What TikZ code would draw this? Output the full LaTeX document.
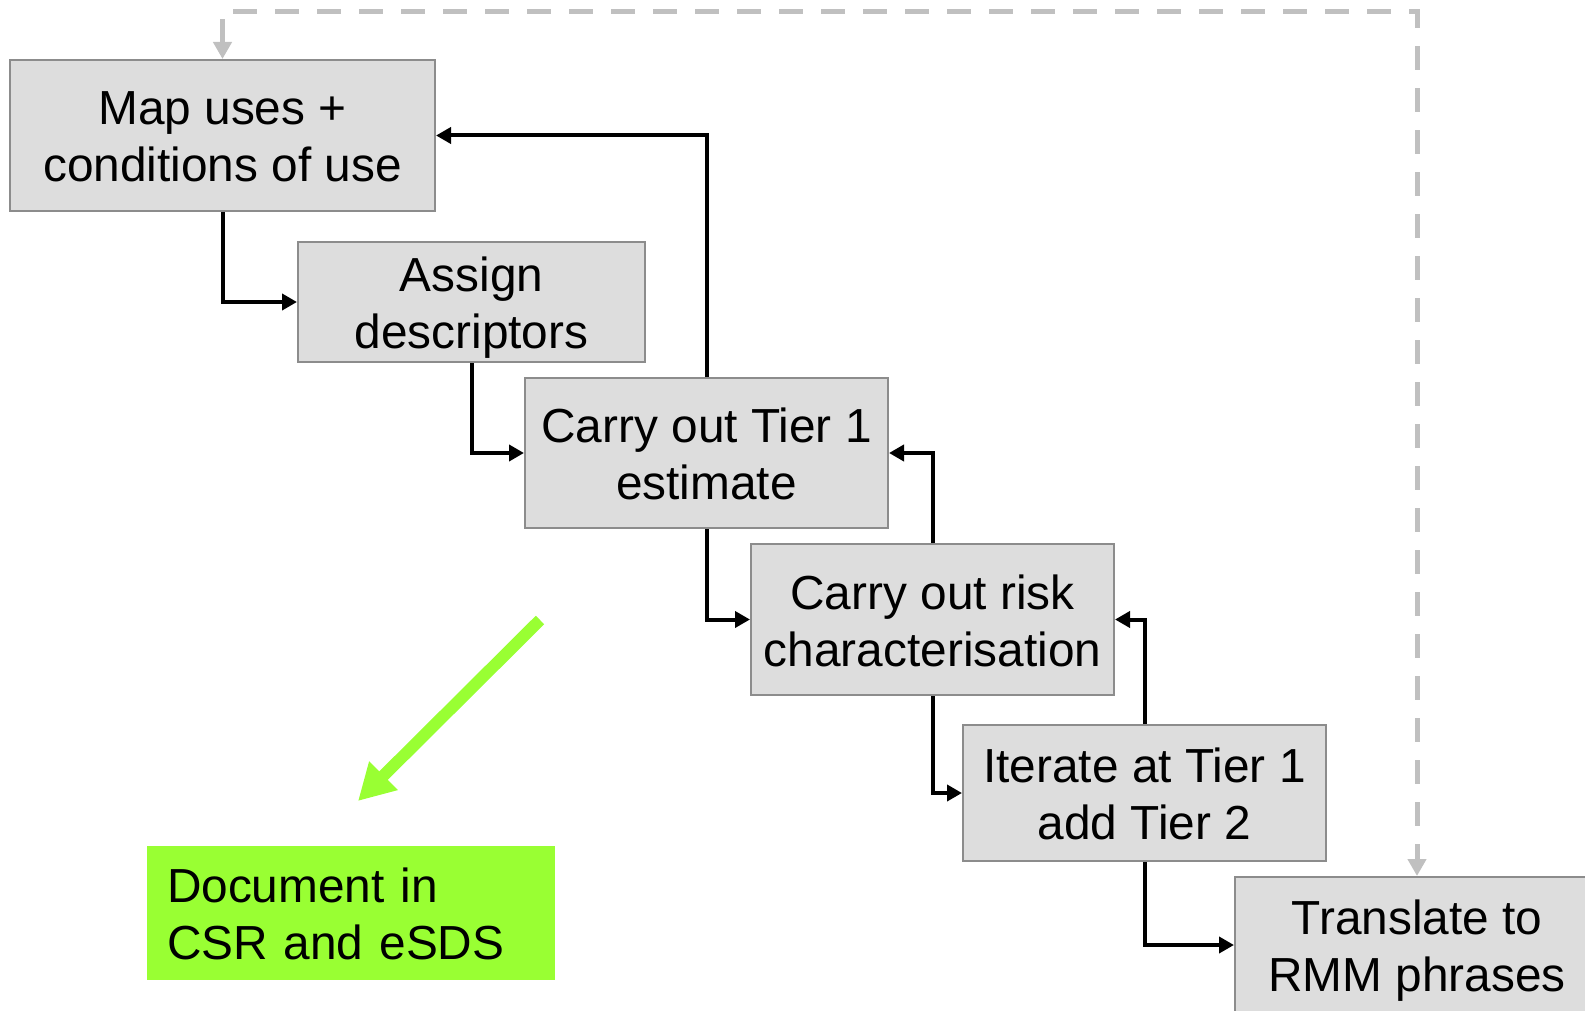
\documentclass[tikz,border=0pt]{standalone}
\usepackage{fontspec}
\setmainfont{Liberation Sans}
\usetikzlibrary{arrows.meta}
\definecolor{boxfill}{RGB}{221,221,221}
\definecolor{boxline}{RGB}{140,140,140}
\definecolor{loopgray}{RGB}{192,192,192}
\definecolor{docgreen}{RGB}{153,255,51}
% two-line label with fixed top height and bottom depth, so all labels sit alike
\newcommand{\twolines}[2]{\rule{0pt}{48pt}#1\\#2\rule[-12pt]{0pt}{12pt}}

\begin{document}
\begin{tikzpicture}[x=1pt,y=-1pt,
  labelfont/.style={font=\fontsize{47.8pt}{57pt}\selectfont},
  stepbox/.style={labelfont, draw=boxline, line width=2pt, fill=boxfill,
    inner sep=0pt, align=center},
  docbox/.style={labelfont, fill=docgreen, inner xsep=20pt, inner ysep=0pt,
    text width=368pt, align=left, minimum height=134pt},
  flow/.style={line width=4pt, miter limit=10, -{Triangle[length=15pt,width=16pt]}},
  loopback/.style={loopgray, line width=5pt, dash pattern=on 24pt off 18pt,
    {Triangle[length=17pt,width=18pt]}-{Triangle[length=17pt,width=18pt]}},
  hint/.style={docgreen, line width=12pt, -{Triangle[length=36pt,width=38pt]}}]

\clip (0,0) rectangle (1585,1011);

% process steps
\node[stepbox, minimum width=425pt, minimum height=151pt] (map) at (222.5,135.5)
  {\twolines{Map uses +}{conditions of use}};
\node[stepbox, minimum width=347pt, minimum height=120pt] (assign) at (471.5,302)
  {\twolines{Assign}{descriptors}};
\node[stepbox, minimum width=363pt, minimum height=150pt] (tier) at (706.5,453)
  {\twolines{Carry out Tier 1}{estimate}};
\node[stepbox, minimum width=363pt, minimum height=151pt] (risk) at (932.5,619.5)
  {\twolines{Carry out risk}{characterisation}};
\node[stepbox, minimum width=363pt, minimum height=136pt] (iter) at (1144.5,793)
  {\twolines{Iterate at Tier 1}{add Tier 2}};
\node[stepbox, minimum width=364pt, minimum height=136pt] (rmm) at (1417,945)
  {\twolines{Translate to}{RMM phrases}};

% documentation box
\node[docbox] (doc) at (351,913) {\twolines{Document in}{CSR and eSDS}};

% forward steps
\draw[flow] (map.south) |- (assign.west);
\draw[flow] (assign.south) |- (tier.west);
\draw[flow] (tier.south) |- (risk.west);
\draw[flow] (risk.south) |- (iter.west);
\draw[flow] (iter.south) |- (rmm.west);

% feedback steps
\draw[flow] (tier.north) |- (map.east);
\draw[flow] (risk.north) |- (tier.east);
\draw[flow] (iter.north) |- (risk.east);

% dashed loop over the top
\coordinate (looptop) at (0,12);
\draw[loopback] (map.north) -- (map.north |- looptop) -- (rmm.north |- looptop) -- (rmm.north);

% green pointer towards the documentation box
\coordinate (hintstart) at (540,620);
\coordinate (hintend) at (358,801);
\draw[hint] (hintstart) -- (hintend);

\end{tikzpicture}
\end{document}
